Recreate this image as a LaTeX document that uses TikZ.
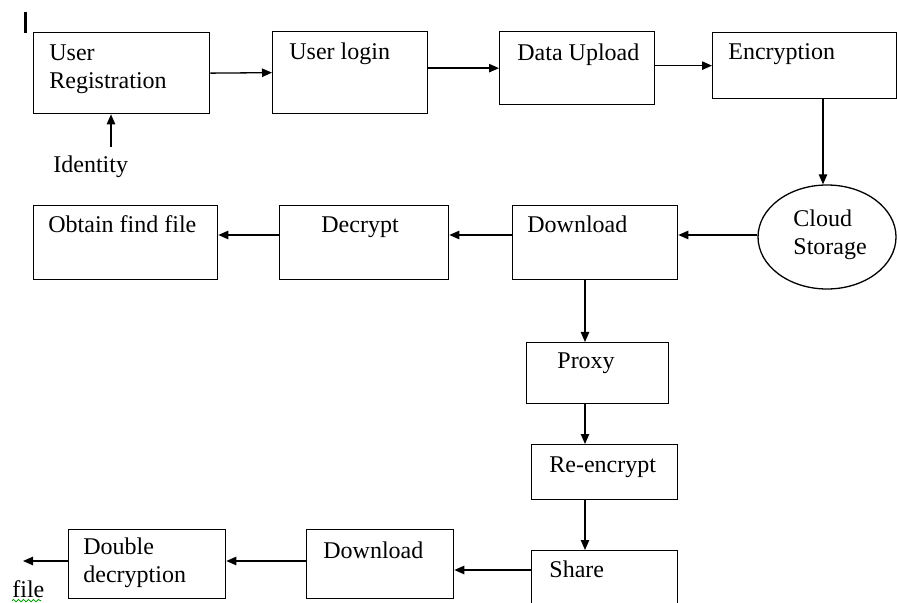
\documentclass[tikz,border=0pt]{standalone}
\usepackage{fontspec}
\setmainfont{Liberation Serif}
\usetikzlibrary{arrows.meta,shapes.geometric,decorations.pathmorphing}

\begin{document}
\begin{tikzpicture}[
    x=0.5pt, y=-0.5pt,
    box/.style={rectangle, draw, line width=0.65pt, inner sep=0pt, anchor=north west},
    txt/.style={anchor=base west, inner sep=0pt, align=left, font=\fontsize{12}{14}\selectfont},
    arrow/.style={-{Triangle[length=5pt,width=4.2pt]}, line width=0.65pt}
]
    \clip (0,0) rectangle (897,603);

    % cursor mark
    \draw [line width=1.5pt] (25,12) -- (25,33);

    % Top row
    \node (reg) [box, minimum width=88pt, minimum height=40.5pt] at (33,32) {};
    \node (regtxt) [txt] at (49,89) {User\\Registration};

    \node (login) [box, minimum width=77.5pt, minimum height=41pt] at (272,31) {};
    \node (logintxt) [txt] at (289,60) {User login};

    \node (upload) [box, minimum width=77.5pt, minimum height=36.5pt] at (499,31) {};
    \node (uploadtxt) [txt] at (517,61) {Data Upload};

    \node (encrypt) [box, minimum width=92pt, minimum height=33pt] at (712,32) {};
    \node (encrypttxt) [txt] at (728,60) {Encryption};

    % Identity input
    \node (identity) [txt] at (53,173) {Identity};
    \coordinate (idin) at (111,147);

    % Cloud
    \node (cloud) [ellipse, draw, line width=0.65pt, inner sep=0pt, minimum width=69pt, minimum height=52pt] at (827,237) {};
    \node (cloudtxt) [txt] at (793,255) {Cloud\\Storage};

    % Second row
    \node (dl) [box, minimum width=82.5pt, minimum height=37pt] at (512,205) {};
    \node (dltxt) [txt] at (527,233) {Download};

    \node (dec) [box, minimum width=84.5pt, minimum height=37pt] at (279,205) {};
    \node (dectxt) [txt] at (321,233) {Decrypt};

    \node (obtain) [box, minimum width=92pt, minimum height=37pt] at (33,205) {};
    \node (obtaintxt) [txt] at (48,233) {Obtain find file};

    % Proxy column
    \coordinate (spine) at (585,0);
    \coordinate (midrow) at (0,235);

    \node (proxy) [box, minimum width=71pt, minimum height=30.5pt] at (526,342) {};
    \node (proxytxt) [txt] at (557,368) {Proxy};

    \node (reenc) [box, minimum width=73pt, minimum height=27.5pt] at (531,444) {};
    \node (reenctxt) [txt] at (549,472) {Re-encrypt};

    \node (share) [box, minimum width=73pt, minimum height=35pt] at (531,550) {};
    \node (sharetxt) [txt] at (549,577) {Share};

    % Bottom row
    \coordinate (sharerow) at (0,570);
    \coordinate (ddrow) at (0,561);

    \node (dl2) [box, minimum width=73.5pt, minimum height=34.5pt] at (306,529) {};
    \node (dl2txt) [txt] at (323,558) {Download};

    \node (dd) [box, minimum width=78.5pt, minimum height=34.5pt] at (68,529) {};
    \node (ddtxt) [txt] at (83,582) {Double\\decryption};

    \coordinate (out) at (23,561);
    \node (file) [txt] at (12,597) {file};
    \draw [green!60!black, line width=0.4pt, decorate, decoration={snake, amplitude=0.6pt, segment length=2.5pt}] (file.south west) ++(0,3) -- ++(29,0);

    % Arrows
    \draw [arrow] (reg.east) -- (login.west);
    \draw [arrow] (login.east |- upload.west) -- (upload.west);
    \draw [arrow] (upload.east |- encrypt.west) -- (encrypt.west);
    \draw [arrow] (encrypt.south -| 823,0) -- (cloud.north -| 823,0);
    \draw [arrow] (idin) -- (idin |- reg.south);

    \draw [arrow] (cloud.west |- midrow) -- (dl.east |- midrow);
    \draw [arrow] (dl.west |- midrow) -- (dec.east |- midrow);
    \draw [arrow] (dec.west |- midrow) -- (obtain.east |- midrow);

    \draw [arrow] (dl.south -| spine) -- (proxy.north -| spine);
    \draw [arrow] (proxy.south -| spine) -- (reenc.north -| spine);
    \draw [arrow] (reenc.south -| spine) -- (share.north -| spine);

    \draw [arrow] (share.west |- sharerow) -- (dl2.east |- sharerow);
    \draw [arrow] (dl2.west |- ddrow) -- (dd.east |- ddrow);
    \draw [arrow] (dd.west |- ddrow) -- (out);

\end{tikzpicture}
\end{document}
